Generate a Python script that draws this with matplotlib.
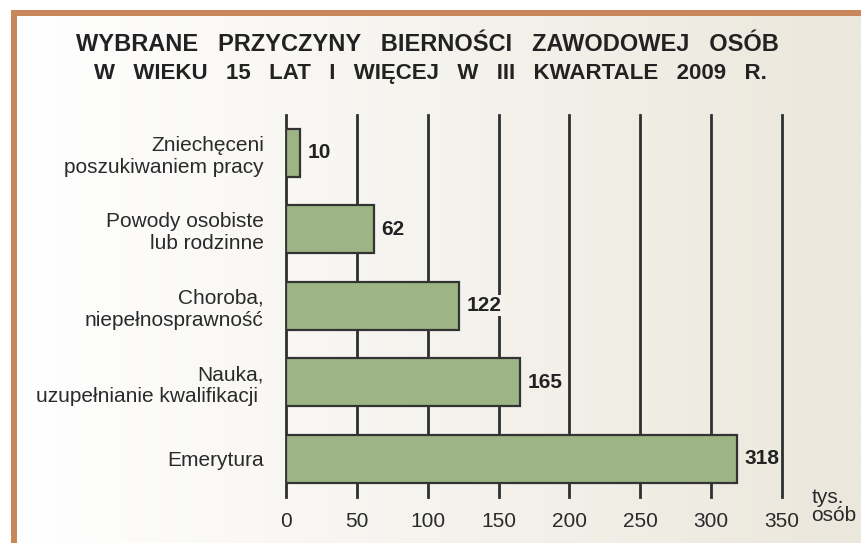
import matplotlib
matplotlib.use("Agg")
import matplotlib.pyplot as plt
import numpy as np
from matplotlib.patches import Rectangle

plt.rcParams['font.family'] = ['Liberation Sans', 'DejaVu Sans']

categories = [
    "Zniechęceni\nposzukiwaniem pracy",
    "Powody osobiste\nlub rodzinne",
    "Choroba,\nniepełnosprawność",
    "Nauka,\nuzupełnianie kwalifikacji ",
    "Emerytura",
]
values = [10, 62, 122, 165, 318]
xticks = [0, 50, 100, 150, 200, 250, 300, 350]
title_line1 = "WYBRANE   PRZYCZYNY   BIERNOŚCI   ZAWODOWEJ   OSÓB"
title_line2 = "W   WIEKU   15   LAT   I   WIĘCEJ   W   III   KWARTALE   2009   R."
unit = "tys.\nosób"

W, H = 862, 543
fig = plt.figure(figsize=(W / 100, H / 100), dpi=100)
fig.patch.set_facecolor("white")

# background gradient
bg = fig.add_axes([0, 0, 1, 1], zorder=0)
bg.set_xlim(0, W)
bg.set_ylim(H, 0)
bg.axis("off")
gx0, gx1 = 17, W
c0 = np.array([1.0, 1.0, 1.0])
c1 = np.array([0xeb, 0xe7, 0xdc]) / 255
grad = np.linspace(0, 1, 256)[None, :]
img = c0[None, None, :] * (1 - grad[..., None]) + c1[None, None, :] * grad[..., None]
bg.imshow(img, extent=[gx0, gx1, H, 16], aspect="auto", interpolation="bilinear")
border = "#c8875a"
bg.add_patch(Rectangle((11.5, 10), W - 11.5, 6, color=border, lw=0))
bg.add_patch(Rectangle((11.5, 10), 5.3, H - 10, color=border, lw=0))


def bg_color(px):
    t = np.clip((px - gx0) / (gx1 - gx0), 0, 1)
    return tuple(c0 * (1 - t) + c1 * t)


fig.text(427 / W, 1 - 51 / H, title_line1, ha="center", va="baseline",
         fontsize=17, fontweight="bold", color="#222222")
fig.text(430 / W, 1 - 79 / H, title_line2, ha="center", va="baseline",
         fontsize=16, fontweight="bold", color="#222222")

ax_left, ax_right = 286, 782
ax = fig.add_axes([ax_left / W, 1 - 497 / H, (ax_right - ax_left) / W, (497 - 114.5) / H], zorder=1)
ax.patch.set_alpha(0)
y = np.arange(len(categories))
ax.barh(y, values, height=0.63, color="#9db584", edgecolor="#333333",
        linewidth=1.6, zorder=3)
ax.set_xlim(0, 350)
ax.set_ylim(len(categories) - 0.5, -0.5)
ax.set_xticks(xticks)
ax.set_xticklabels([str(t) for t in xticks])
ax.set_yticks(y)
ax.set_yticklabels(categories, multialignment="right")
ax.tick_params(axis="both", length=0, labelsize=15, colors="#2a2a2a")
ax.tick_params(axis="x", pad=11)
ax.tick_params(axis="y", pad=16)
for s in ax.spines.values():
    s.set_visible(False)
ax.grid(axis="x", color="#2d3030", linewidth=2, zorder=1)
for gl in ax.get_xgridlines():
    gl.set_clip_on(False)
ax.set_axisbelow(True)

for yi, v in zip(y, values):
    px = ax_left + v * (ax_right - ax_left) / 350 + 25
    ax.annotate(str(v), xy=(v, yi), xytext=(5.5, 0), textcoords="offset points",
                ha="left", va="center", fontsize=15, fontweight="bold",
                color="#222222", zorder=2,
                bbox=dict(boxstyle="square,pad=0.05", fc=bg_color(px), ec="none"))

ax.annotate(unit, xy=(350, 0), xycoords=("data", "axes fraction"),
            xytext=(21, -7), textcoords="offset points", ha="left", va="center",
            fontsize=15, color="#2a2a2a", linespacing=0.95)

fig.savefig("out.png", dpi=100)
